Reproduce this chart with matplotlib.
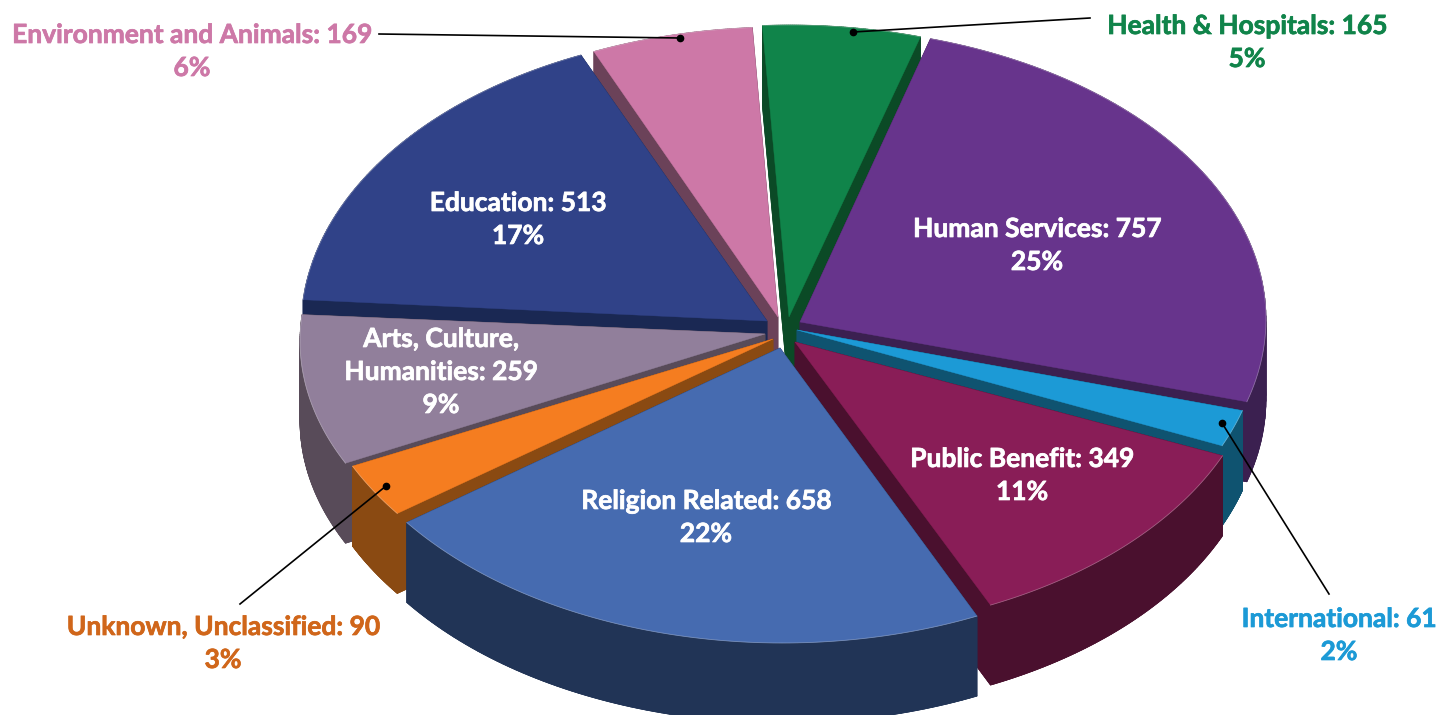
import numpy as np
import matplotlib
matplotlib.use("Agg")
import matplotlib.pyplot as plt
import matplotlib.patheffects as pe

# data, clockwise from the top
categories = ["Health & Hospitals", "Human Services", "International", "Public Benefit",
              "Religion Related", "Unknown, Unclassified", "Arts, Culture,\nHumanities",
              "Education", "Environment and Animals"]
values = [165, 757, 61, 349, 658, 90, 259, 513, 169]
percents = [5, 25, 2, 11, 22, 3, 9, 17, 6]

# styles
top_colors = ["#10844a", "#67348c", "#1c9ad6", "#891d57", "#466bb0", "#f57d20", "#917f9b", "#304288", "#cd78a7"]
wall_colors = ["#0b4a26", "#3b2050", "#0f5370", "#4a102e", "#213456", "#8a4a12", "#584b59", "#1a2853", "#6b4259"]
text_colors = ["#10844a", "white", "#1c9ad6", "white", "white", "#d0661a", "white", "white", "#cd78a7"]

# layout in pixels
W, H = 1438, 715
rx = 466
ry = [295, 292, 295, 295, 295, 295, 283.5, 297, 295]
depth = 80
start_deg = -3.4
apex = [(789, 317), (800, 322), (797, 330), (795, 342), (780, 348), (773, 339), (765, 334), (767, 321), (778, 317)]
rim_center = [(790, 320), (800, 319), (795.5, 327), (796, 337), (782.5, 348), (773, 339), (766, 341), (767, 327.3), (780, 322)]
label_pos = [(1247, 26), (1037, 229), (1339, 619), (1022, 459), (706, 501), (223, 627), (441, 339), (518, 203), (192, 35)]
line_gap = 33
draw_order = [8, 0, 7, 1, 6, 2, 5, 3, 4]
leaders = {0: ((853, 32), (1090, 18)), 2: ((1222, 423), (1329, 594)),
           5: ((386, 486), (240, 604)), 8: ((680, 38), (379, 34))}

fig = plt.figure(figsize=(W / 100, H / 100), dpi=100)
ax = fig.add_axes([0, 0, 1, 1])
ax.set_xlim(0, W)
ax.set_ylim(H, 0)
ax.axis("off")

sweeps = np.array(values) / sum(values) * 360
edges = start_deg + np.concatenate([[0], np.cumsum(sweeps)])


def sector_outline(i):
    # apex first, then the rim going clockwise
    t = np.radians(np.linspace(edges[i], edges[i + 1], 80))
    xs = rim_center[i][0] + rx * np.sin(t)
    ys = rim_center[i][1] - ry[i] * np.cos(t)
    return np.concatenate([[apex[i][0]], xs]), np.concatenate([[apex[i][1]], ys])


for i in draw_order:
    xs, ys = sector_outline(i)
    wall = wall_colors[i]
    # bottom face and the swept sides
    ax.fill(xs, ys + depth, color=wall, lw=0.5)
    n = len(xs)
    for k in range(n):
        j = (k + 1) % n
        ax.fill([xs[k], xs[j], xs[j], xs[k]], [ys[k], ys[j], ys[j] + depth, ys[k] + depth], color=wall, lw=0.5)
    ax.fill(xs, ys, color=top_colors[i], lw=0.3)
    # faint highlight along the rim
    ax.plot(xs[1:], ys[1:], color="white", alpha=0.3, lw=0.6)

for i, (dot, end) in leaders.items():
    ax.plot([dot[0], end[0]], [dot[1], end[1]], color="black", lw=1.2, zorder=5)
    ax.plot(dot[0], dot[1], "o", color="black", ms=4.5, zorder=5)

for i in range(len(categories)):
    lines = f"{categories[i]}: {values[i]}\n{percents[i]}%".split("\n")
    x, y = label_pos[i]
    for k, line in enumerate(lines):
        t = ax.text(x, y + k * line_gap, line, family="Lato", weight="bold", fontsize=19,
                    color=text_colors[i], ha="center", va="center", zorder=6)
        # the original text is a bit heavier than Lato Bold here
        t.set_path_effects([pe.withStroke(linewidth=0.5, foreground=text_colors[i])])

fig.savefig("out.png", dpi=100)
